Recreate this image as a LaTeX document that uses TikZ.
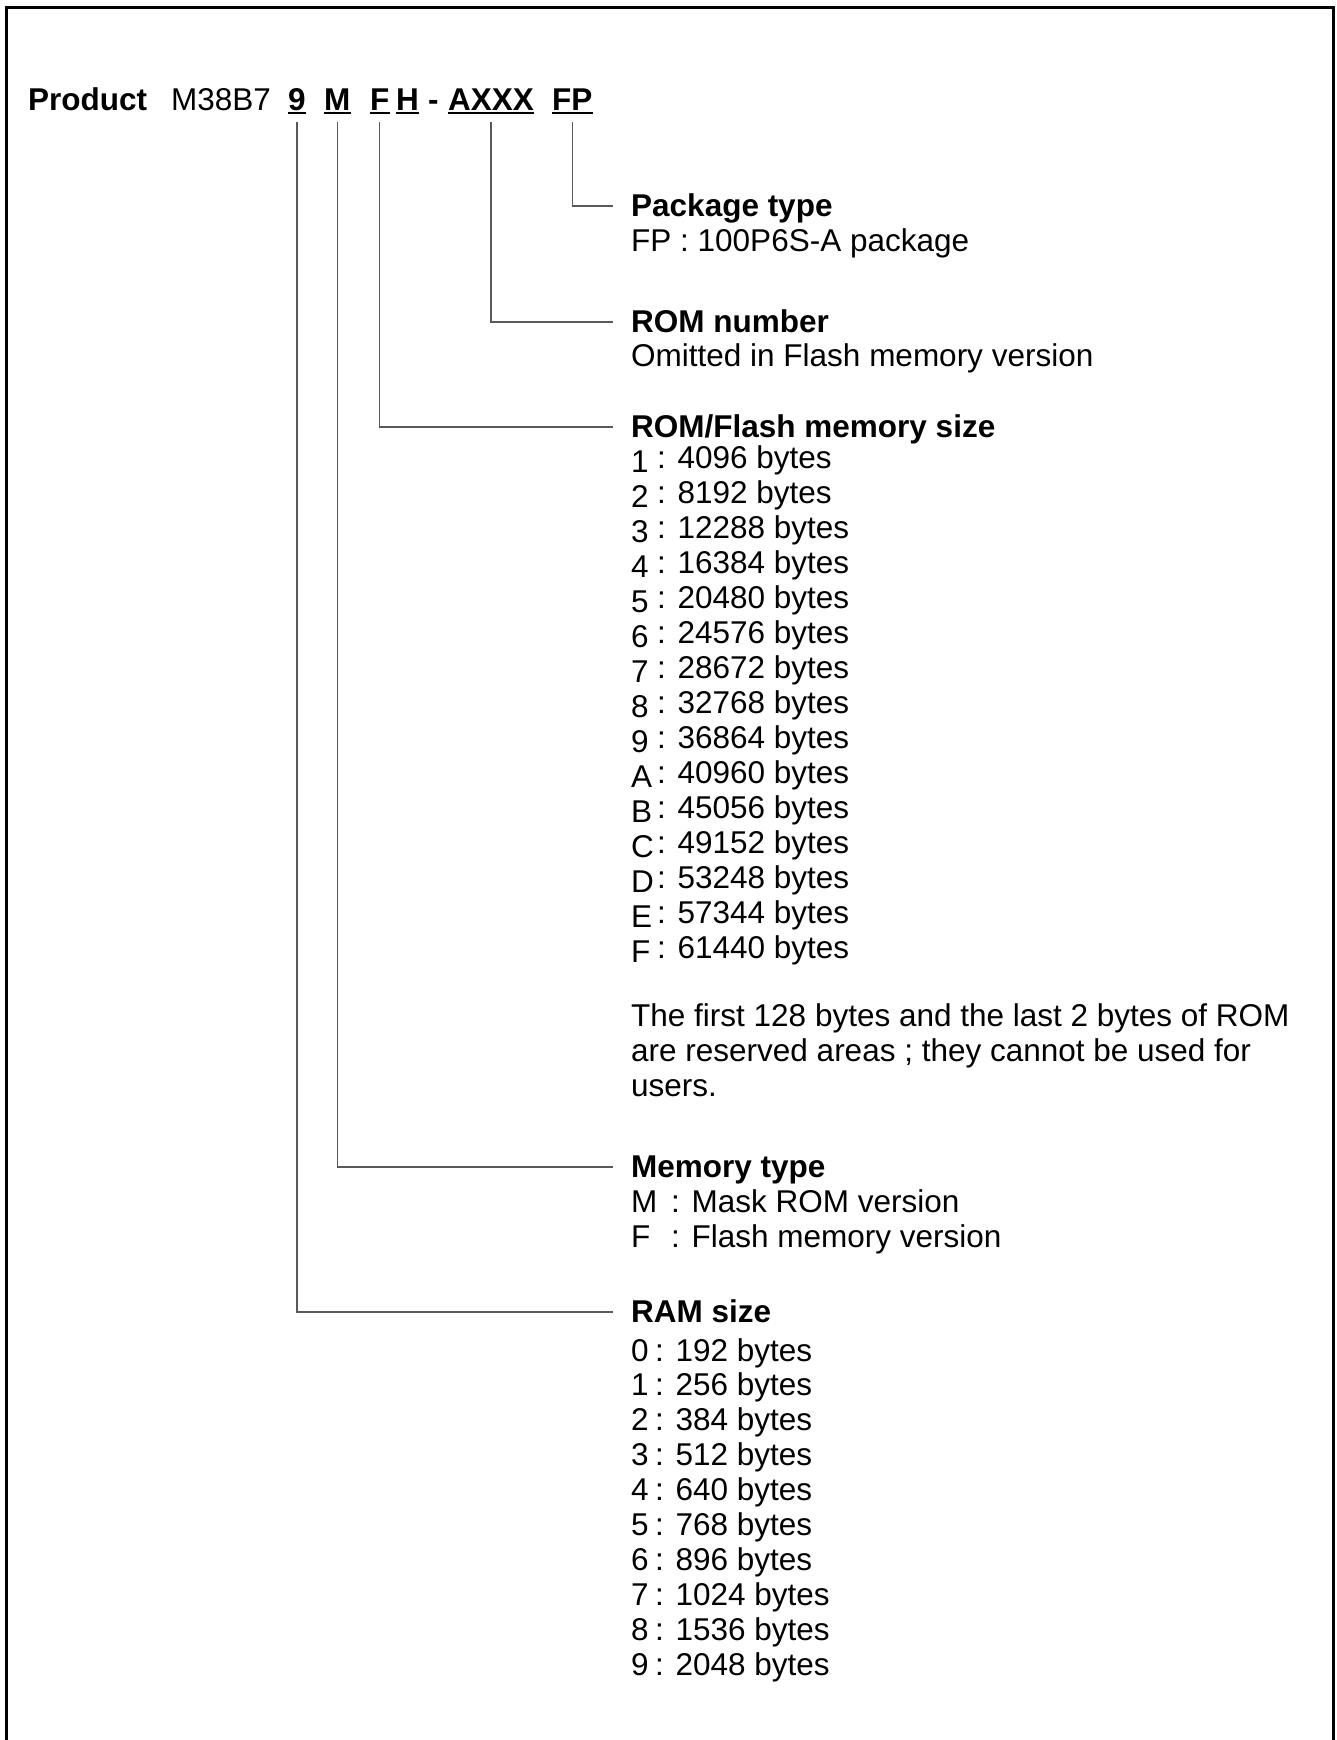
\documentclass[tikz,border=0pt]{standalone}
\usepackage{fontspec}
\setmainfont{Liberation Sans}

\begin{document}
\begin{tikzpicture}[
  x=1pt, y=-1pt,
  every node/.style={inner sep=0pt, font=\fontsize{31.5}{35}\selectfont},
  code/.style={anchor=base west, text depth=0pt, font=\fontsize{31.5}{35}\selectfont\bfseries},
  head/.style={anchor=base west, font=\fontsize{31.5}{35}\selectfont\bfseries},
  entry/.style={anchor=base west},
  uline/.style={line width=2pt},
  lead/.style={draw=black!65, line width=1.3pt},
  frame/.style={line width=3pt}
]
  \useasboundingbox (0,0) rectangle (1337,1740);
  \draw[frame] (6,1760) -- (6,7) -- (1333,7) -- (1333,1760);

  % part number
  \node[code] (prod) at (28,110) {Product};
  \node[code, font=\fontsize{31.5}{35}\selectfont] (series) at (171,110) {M38B7};
  \node[code] (c9) at (288,110) {9};
  \node[code] (cM) at (324,110) {M};
  \node[code] (cF) at (370,110) {F};
  \node[code] (cH) at (396,110) {H};
  \node[code] (dash) at (428,110) {-};
  \node[code] (cA) at (448,110) {AXXX};
  \node[code] (cFP) at (552,110) {FP};
  \foreach \n in {c9,cM,cF,cH,cA,cFP}
    \draw[uline] ([yshift=-3pt]\n.south west) -- ([yshift=-3pt]\n.south east);

  % headings
  \node[head] (pkghd) at (631,216) {Package type};
  \node[entry] (pkg) at (631,251) {FP : 100P6S-A package};
  \node[head] (romnohd) at (631,332) {ROM number};
  \node[entry] (romno) at (631,366) {Omitted in Flash memory version};
  \node[head] (romhd) at (631,437) {ROM/Flash memory size};
  \foreach \k/\v [count=\i from 0] in {1/4096,2/8192,3/12288,4/16384,5/20480,6/24576,7/28672,8/32768,9/36864,A/40960,B/45056,C/49152,D/53248,E/57344,F/61440}
    \node[entry] (rom\i) at (631,{468+35*\i}) {\makebox[26pt][l]{\raisebox{-4pt}{\k}}: \v\ bytes};
  \foreach \t [count=\i from 0] in {The first 128 bytes and the last 2 bytes of ROM,are reserved areas ; they cannot be used for,users.}
    \node[entry] (note\i) at (631,{1026+35*\i}) {\t};
  \node[head] (memhd) at (631,1177) {Memory type};
  \node[entry] (memM) at (631,1212) {\makebox[40pt][l]{M}: Mask ROM version};
  \node[entry] (memF) at (631,1247) {\makebox[40pt][l]{F}: Flash memory version};
  \node[head] (ramhd) at (631,1322) {RAM size};
  \foreach \k/\v [count=\i from 0] in {0/192,1/256,2/384,3/512,4/640,5/768,6/896,7/1024,8/1536,9/2048}
    \node[entry] (ram\i) at (631,{1361+34.9*\i}) {\makebox[24pt][l]{\k}: \v\ bytes};

  % leaders
  \draw[lead] ([yshift=-12pt]cFP.south) |- ([shift={(-18pt,10pt)}]pkghd.base west);
  \draw[lead] ([yshift=-12pt]cA.south) |- ([shift={(-18pt,10pt)}]romnohd.base west);
  \draw[lead] ([yshift=-12pt]cF.south) |- ([shift={(-18pt,10pt)}]romhd.base west);
  \draw[lead] ([yshift=-12pt]cM.south) |- ([shift={(-18pt,10pt)}]memhd.base west);
  \draw[lead] ([yshift=-12pt]c9.south) |- ([shift={(-18pt,10pt)}]ramhd.base west);
\end{tikzpicture}
\end{document}
